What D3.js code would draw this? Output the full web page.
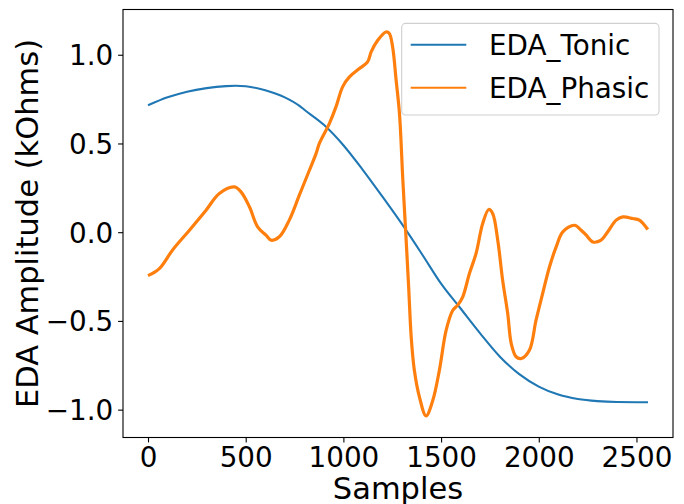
<!DOCTYPE html>
<html><head><meta charset="utf-8">
<script src="https://cdn.jsdelivr.net/npm/d3@7"></script>
<style>
body{margin:0;background:#fff}
svg{display:block}
text{font-family:"DejaVu Sans",sans-serif;fill:#000}
</style>
</head><body>
<svg id="chart" width="684" height="504"></svg>
<script>
// ---- data ----
const seriesNames = ["EDA_Tonic", "EDA_Phasic"];
const seriesColors = ["#1f77b4", "#ff7f0e"];

const tonicSamples = [0,100,200,300,400,450,500,600,700,775,800,900,1000,1100,1200,1300,1400,1500,1600,1700,1800,1900,2000,2100,2200,2300,2400,2500,2559];
const tonicValues  = [0.715,0.76,0.792,0.812,0.823,0.825,0.822,0.80,0.76,0.712,0.69,0.605,0.49,0.35,0.2,0.045,-0.12,-0.29,-0.43,-0.57,-0.7,-0.8,-0.87,-0.915,-0.94,-0.952,-0.957,-0.958,-0.958];

const phasicSamples = [0,58,126,211,297,365,442,476,519,561,604,630,672,723,775,826,860,877,928,962,996,1031,1082,1124,1142,1175,1218,1235,1252,1270,1287,1304,1319,1334,1347,1363,1389,1423,1457,1491,1526,1560,1585,1611,1645,1679,1713,1744,1764,1790,1815,1841,1859,1884,1910,1952,1986,2020,2055,2089,2123,2183,2217,2243,2277,2319,2353,2396,2430,2481,2515,2558];
const phasicValues  = [-0.245,-0.205,-0.10,0.01,0.124,0.218,0.255,0.227,0.143,0.03,-0.017,-0.045,-0.026,0.068,0.21,0.349,0.443,0.5,0.612,0.706,0.819,0.875,0.922,0.96,1.016,1.08,1.128,1.12,1.044,0.856,0.669,0.3,0.0,-0.308,-0.59,-0.777,-0.928,-1.035,-0.95,-0.78,-0.552,-0.44,-0.411,-0.364,-0.233,-0.12,0.049,0.128,0.105,-0.045,-0.27,-0.458,-0.627,-0.702,-0.712,-0.665,-0.496,-0.345,-0.195,-0.083,0.002,0.039,0.011,-0.017,-0.055,-0.045,0.002,0.068,0.086,0.077,0.068,0.015];

const xTicks = [0,500,1000,1500,2000,2500];
const yTicks = [-1.0,-0.5,0.0,0.5,1.0];
const xLabel = "Samples";
const yLabel = "EDA Amplitude (kOhms)";

// ---- layout ----
const svg = d3.select("#chart");
const L = 123, R = 673, T = 9.5, B = 437.5;
const fs = 27.8, labelFs = 30.5;

const x = d3.scaleLinear().domain([-128, 2687]).range([L, R]);
const y = d3.scaleLinear().domain([-1.157, 1.255]).range([B, T]);

svg.append("defs").append("clipPath").attr("id","clip")
  .append("rect").attr("x",L).attr("y",T).attr("width",R-L).attr("height",B-T);

const tonic = tonicSamples.map((s,i)=>[s,tonicValues[i]]);
const phasic = phasicSamples.map((s,i)=>[s,phasicValues[i]]);

const lineSmooth = d3.line().x(d=>x(d[0])).y(d=>y(d[1])).curve(d3.curveMonotoneX);
const lineRough = d3.line().x(d=>x(d[0])).y(d=>y(d[1])).curve(d3.curveCatmullRom.alpha(0.5));

const plot = svg.append("g").attr("clip-path","url(#clip)");
plot.append("path").datum(tonic).attr("d",lineSmooth)
  .attr("fill","none").attr("stroke",seriesColors[0]).attr("stroke-width",2.08);
plot.append("path").datum(phasic).attr("d",lineRough)
  .attr("fill","none").attr("stroke",seriesColors[1]).attr("stroke-width",3.2)
  .attr("stroke-linejoin","round");

// axes
const fmt = d3.format(".1f");
const xAxis = svg.append("g").attr("transform",`translate(0,${B})`)
  .call(d3.axisBottom(x).tickValues(xTicks).tickFormat(d3.format("d")).tickSize(4.9).tickSizeOuter(0).tickPadding(4.6));
const yAxis = svg.append("g").attr("transform",`translate(${L},0)`)
  .call(d3.axisLeft(y).tickValues(yTicks).tickFormat(fmt).tickSize(4.9).tickSizeOuter(0).tickPadding(4.9));
[xAxis,yAxis].forEach(a=>{
  a.select(".domain").remove();
  a.selectAll(".tick line").attr("stroke","#000").attr("stroke-width",1.1);
  a.selectAll(".tick text").attr("font-family","DejaVu Sans, sans-serif").attr("font-size",fs).attr("fill","#000");
});
yAxis.selectAll(".tick text").attr("dy","0.36em");

// frame
svg.append("rect").attr("x",L).attr("y",T).attr("width",R-L).attr("height",B-T)
  .attr("fill","none").attr("stroke","#000").attr("stroke-width",1.1);

// axis labels
svg.append("text").attr("x",(L+R)/2).attr("y",499).attr("text-anchor","middle")
  .attr("font-size",labelFs).text(xLabel);
svg.append("text").attr("transform",`translate(38,${(T+B)/2}) rotate(-90)`)
  .attr("text-anchor","middle").attr("font-size",labelFs).text(yLabel);

// legend
const lg = svg.append("g");
lg.append("rect").attr("x",401.7).attr("y",23.4).attr("width",659-401.7).attr("height",115-23.4)
  .attr("rx",4).attr("ry",4).attr("fill","rgba(255,255,255,0.8)").attr("stroke","#d0d0d0").attr("stroke-width",1.1);
const rows = [44.7, 87.7];
seriesNames.forEach((n,i)=>{
  lg.append("line").attr("x1",410.7).attr("x2",466.3).attr("y1",rows[i]).attr("y2",rows[i])
    .attr("stroke",seriesColors[i]).attr("stroke-width",2.08);
  lg.append("text").attr("x",489).attr("y",rows[i]+10.1).attr("font-size",fs).text(n);
});
</script>
</body></html>
